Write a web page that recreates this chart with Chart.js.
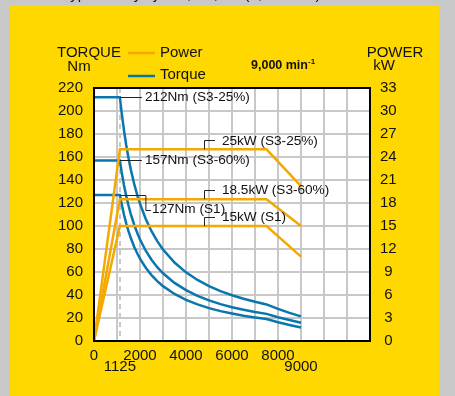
<!DOCTYPE html>
<html>
<head>
<meta charset="utf-8">
<script src="https://cdn.jsdelivr.net/npm/chart.js@4/dist/chart.umd.min.js"></script>
<style>
  html, body { margin: 0; padding: 0; background: #c8c8c8; }
  canvas { display: block; }
</style>
</head>
<body>
<canvas id="chart" width="455" height="396"></canvas>
<script>
// Motor speed samples (min^-1) for the torque curves
const torqueRpm   = [0, 1125, 1200, 1300, 1400, 1500, 1600, 1750, 1900, 2000, 2250, 2500, 2750, 3000, 3500, 4000, 4500, 5000, 5500, 6000, 6500, 7000, 7500, 8000, 8500, 9000];
// Torque (Nm) per duty type
const torqueS3_25 = [212, 212, 198.9, 183.6, 170.5, 159.2, 149.2, 136.4, 125.6, 119.4, 106.1, 95.5, 86.8, 79.6, 68.2, 59.7, 53.1, 47.7, 43.4, 39.8, 36.7, 34.1, 31.8, 27.9, 24.5, 21.4];
const torqueS3_60 = [157, 157, 147.2, 135.9, 126.2, 117.8, 110.4, 100.9, 93.0, 88.3, 78.5, 70.7, 64.2, 58.9, 50.5, 44.2, 39.3, 35.3, 32.1, 29.4, 27.2, 25.2, 23.6, 20.7, 18.2, 15.9];
const torqueS1    = [127, 127, 119.4, 110.2, 102.3, 95.5, 89.5, 81.8, 75.4, 71.6, 63.7, 57.3, 52.1, 47.7, 40.9, 35.8, 31.8, 28.6, 26.0, 23.9, 22.0, 20.5, 19.1, 16.3, 13.9, 11.7];

// Power (kW) per duty type
const powerRpm    = [0, 1125, 7500, 9000];
const powerS3_25  = [0, 25, 25, 20.2];
const powerS3_60  = [0, 18.5, 18.5, 15];
const powerS1     = [0, 15, 15, 11];

// Rated values and their callouts
const ratedSpeed   = 1125;
const ratedTorque  = [212, 157, 127];
const torqueNotes  = ['212Nm (S3-25%)', '157Nm (S3-60%)', '127Nm (S1)'];
const ratedPower   = [25, 18.5, 15];
const powerNotes   = ['25kW (S3-25%)', '18.5kW (S3-60%)', '15kW (S1)'];

// Speed axis ticks
const xGridTicks  = [0, 1000, 1125, 2000, 3000, 4000, 5000, 6000, 7000, 8000, 9000, 10000, 11000, 12000];
const xMainLabels = [0, 2000, 4000, 6000, 8000];
const xSubLabels  = [1125, 9000];

const YELLOW = '#ffd800';
const ORANGE = '#f4a800';
const BLUE   = '#0a76ae';
const GRID   = '#c8c8c8';
const INK    = '#111111';
const FONT   = '"Liberation Sans", Arial, Helvetica, sans-serif';

const pts = (xs, ys) => xs.map((x, i) => ({ x, y: ys[i] }));

const lineSet = (label, xs, ys, color, axis) => ({
  label,
  data: pts(xs, ys),
  yAxisID: axis,
  borderColor: color,
  borderWidth: 2.5,
  pointRadius: 0,
  tension: 0,
  fill: false
});

const decor = {
  id: 'decor',
  beforeDraw(chart) {
    const { ctx, chartArea: a } = chart;
    ctx.save();
    ctx.fillStyle = '#c8c8c8';
    ctx.fillRect(0, 0, chart.width, chart.height);
    ctx.fillStyle = YELLOW;
    ctx.fillRect(10, 5, 429, chart.height - 5);
    ctx.fillStyle = '#ffffff';
    ctx.fillRect(a.left, a.top, a.right - a.left, a.bottom - a.top);
    // caption running above the panel
    ctx.fillStyle = INK;
    ctx.font = '15px ' + FONT;
    ctx.textBaseline = 'alphabetic';
    ctx.textAlign = 'left';
    ctx.fillText('Typical duty cycles, S1, S3 (9,000 min)', 62, -1.5);
    ctx.restore();
  },
  afterDatasetsDraw(chart) {
    const { ctx, chartArea: a, scales } = chart;
    const px = v => scales.x.getPixelForValue(v);
    const pyT = v => scales.y.getPixelForValue(v);
    const pyP = v => scales.y1.getPixelForValue(v);
    ctx.save();

    // plot frame
    ctx.strokeStyle = '#000';
    ctx.lineWidth = 2;
    ctx.strokeRect(a.left, a.top, a.right - a.left, a.bottom - a.top);

    // torque callouts
    ctx.strokeStyle = '#222';
    ctx.lineWidth = 1;
    ctx.fillStyle = INK;
    ctx.font = '13.6px ' + FONT;
    ctx.textBaseline = 'middle';
    ctx.textAlign = 'left';
    const x0 = px(ratedSpeed);
    ratedTorque.forEach((t, i) => {
      const y0 = Math.round(pyT(t)) + 0.5;
      ctx.beginPath();
      if (i < 2) {
        ctx.moveTo(x0, y0);
        ctx.lineTo(x0 + 22, y0);
        ctx.stroke();
        ctx.fillText(torqueNotes[i], x0 + 25, y0);
      } else {
        ctx.moveTo(x0, y0);
        ctx.lineTo(x0 + 26, y0);
        ctx.lineTo(x0 + 26, y0 + 15);
        ctx.lineTo(x0 + 31, y0 + 15);
        ctx.stroke();
        ctx.fillText(torqueNotes[i], x0 + 32, y0 + 14);
      }
    });

    // power callouts
    const xp = px(4780);
    ratedPower.forEach((p, i) => {
      const y0 = pyP(p);
      ctx.beginPath();
      ctx.moveTo(Math.round(xp) + 0.5, y0);
      ctx.lineTo(Math.round(xp) + 0.5, Math.round(y0 - 9) + 0.5);
      ctx.lineTo(xp + 11, Math.round(y0 - 9) + 0.5);
      ctx.stroke();
      ctx.fillText(powerNotes[i], xp + 18, y0 - 8.5);
    });
    ctx.restore();
  },
  afterDraw(chart) {
    const { ctx } = chart;
    ctx.save();
    ctx.fillStyle = INK;
    ctx.textBaseline = 'middle';

    // axis headings
    ctx.font = '15px ' + FONT;
    ctx.textAlign = 'center';
    ctx.fillText('TORQUE', 89, 53);
    ctx.fillText('Nm', 79, 67);
    ctx.fillText('POWER', 395, 53);
    ctx.fillText('kW', 384, 66);

    // legend
    ctx.lineWidth = 2.5;
    ctx.strokeStyle = ORANGE;
    ctx.beginPath(); ctx.moveTo(128, 53); ctx.lineTo(155, 53); ctx.stroke();
    ctx.strokeStyle = BLUE;
    ctx.beginPath(); ctx.moveTo(128, 76); ctx.lineTo(155, 76); ctx.stroke();
    ctx.textAlign = 'left';
    ctx.fillText('Power', 160, 53);
    ctx.fillText('Torque', 160, 75);

    // maximum speed heading
    ctx.font = 'bold 12.5px ' + FONT;
    const head = '9,000 min';
    ctx.fillText(head, 251, 65.5);
    const w = ctx.measureText(head).width;
    ctx.font = 'bold 8px ' + FONT;
    ctx.fillText('-1', 251 + w, 61.5);
    ctx.restore();
  }
};

new Chart(document.getElementById('chart'), {
  type: 'line',
  data: {
    datasets: [
      lineSet('Power S3-25%', powerRpm, powerS3_25, ORANGE, 'y1'),
      lineSet('Power S3-60%', powerRpm, powerS3_60, ORANGE, 'y1'),
      lineSet('Power S1', powerRpm, powerS1, ORANGE, 'y1'),
      lineSet('Torque S3-25%', torqueRpm, torqueS3_25, BLUE, 'y'),
      lineSet('Torque S3-60%', torqueRpm, torqueS3_60, BLUE, 'y'),
      lineSet('Torque S1', torqueRpm, torqueS1, BLUE, 'y')
    ]
  },
  options: {
    responsive: false,
    animation: false,
    devicePixelRatio: 1,
    layout: { padding: { top: 88, left: 0, right: 0, bottom: 0 } },
    plugins: { legend: { display: false }, tooltip: { enabled: false } },
    scales: {
      x: {
        type: 'linear',
        min: 0,
        max: 12000,
        afterBuildTicks: s => { s.ticks = xGridTicks.map(v => ({ value: v })); },
        afterFit: s => { s.height = 55; },
        grid: {
          color: GRID,
          lineWidth: 2,
          drawTicks: false
        },
        border: {
          display: false,
          dash: c => (c.tick && c.tick.value === ratedSpeed) ? [5, 4] : []
        },
        ticks: {
          autoSkip: false,
          maxRotation: 0,
          padding: 9.5,
          color: INK,
          font: { family: FONT, size: 15, lineHeight: '11px' },
          callback: v => xMainLabels.includes(v) ? String(v)
                        : xSubLabels.includes(v) ? ['', String(v)] : ''
        }
      },
      y: {
        position: 'left',
        min: 0,
        max: 220,
        afterFit: s => { s.width = 94; },
        grid: { color: GRID, lineWidth: 2, drawTicks: false },
        border: { display: false },
        ticks: {
          stepSize: 20,
          padding: 11,
          color: INK,
          font: { family: FONT, size: 15 }
        }
      },
      y1: {
        position: 'right',
        min: 0,
        max: 33,
        afterFit: s => { s.width = 85; },
        grid: { drawOnChartArea: false, drawTicks: false },
        border: { display: false },
        ticks: {
          stepSize: 3,
          padding: 10,
          crossAlign: 'center',
          color: INK,
          font: { family: FONT, size: 15 }
        }
      }
    }
  },
  plugins: [decor]
});
</script>
</body>
</html>
